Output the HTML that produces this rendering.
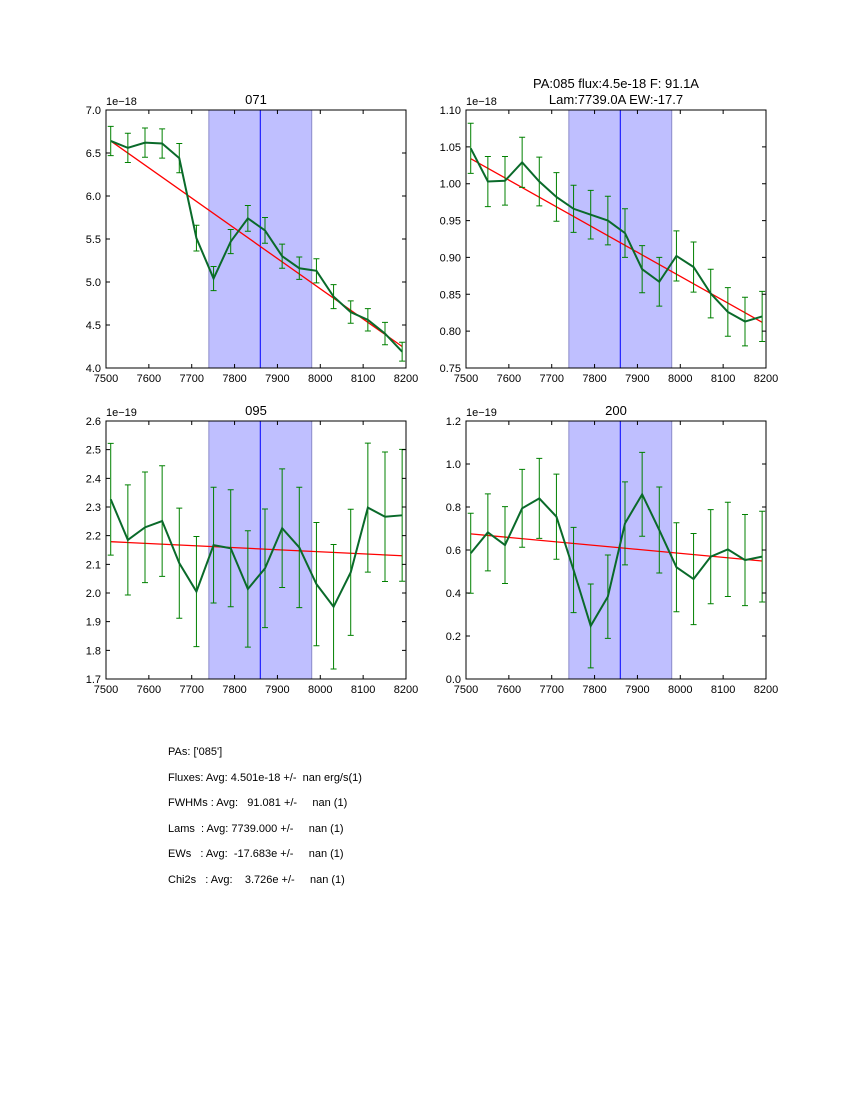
<!DOCTYPE html>
<html><head><meta charset="utf-8">
<style>
body{margin:0;background:#fff;width:850px;height:1100px;overflow:hidden;font-family:"Liberation Sans",sans-serif;}
#info{position:absolute;left:168px;top:740px;font-size:11px;color:#000;white-space:pre;line-height:25.6px;}
</style></head><body>
<svg id="fig" width="850" height="1100" style="position:absolute;left:0;top:0" font-family="Liberation Sans, sans-serif"></svg>
<div id="info">PAs: ['085']
Fluxes: Avg: 4.501e-18 +/-  nan erg/s(1)
FWHMs : Avg:   91.081 +/-     nan (1)
Lams  : Avg: 7739.000 +/-     nan (1)
EWs   : Avg:  -17.683e +/-     nan (1)
Chi2s   : Avg:    3.726e +/-     nan (1)</div>
<script>
const wavelengths=[7511,7551,7591,7631,7671,7711,7751,7791,7831,7871,7911,7951,7991,8031,8071,8111,8151,8191];
const flux071=[6.64,6.56,6.62,6.61,6.44,5.51,5.04,5.47,5.74,5.60,5.30,5.16,5.13,4.83,4.65,4.56,4.40,4.19];
const err071=[0.17,0.17,0.17,0.17,0.17,0.15,0.14,0.14,0.15,0.15,0.14,0.13,0.14,0.14,0.13,0.13,0.13,0.11];
const fit071=[6.64,4.25];
const flux085=[1.048,1.003,1.004,1.029,1.003,0.982,0.966,0.958,0.950,0.933,0.884,0.867,0.902,0.887,0.851,0.826,0.813,0.820];
const err085=[0.034,0.034,0.033,0.034,0.033,0.033,0.032,0.033,0.033,0.033,0.032,0.033,0.034,0.034,0.033,0.033,0.033,0.034];
const fit085=[1.034,0.812];
const flux095=[2.327,2.185,2.229,2.251,2.104,2.005,2.167,2.156,2.014,2.086,2.226,2.159,2.031,1.952,2.072,2.298,2.266,2.271];
const err095=[0.195,0.192,0.193,0.193,0.192,0.192,0.202,0.204,0.203,0.207,0.207,0.21,0.215,0.217,0.22,0.225,0.226,0.23];
const fit095=[2.179,2.130];
const flux200=[0.585,0.682,0.623,0.794,0.840,0.755,0.507,0.247,0.383,0.724,0.859,0.693,0.520,0.465,0.569,0.603,0.553,0.569];
const err200=[0.186,0.179,0.179,0.181,0.186,0.198,0.198,0.195,0.194,0.193,0.195,0.2,0.207,0.212,0.219,0.219,0.212,0.211];
const fit200=[0.675,0.549];
const xTicks=[7500,7600,7700,7800,7900,8000,8100,8200];
const yTicks071=["4.0","4.5","5.0","5.5","6.0","6.5","7.0"];
const yTicks085=["0.75","0.80","0.85","0.90","0.95","1.00","1.05","1.10"];
const yTicks095=["1.7","1.8","1.9","2.0","2.1","2.2","2.3","2.4","2.5","2.6"];
const yTicks200=["0.0","0.2","0.4","0.6","0.8","1.0","1.2"];
const spanRange=[7740,7980];
const lineCenter=7860;

const NS="http://www.w3.org/2000/svg";
const svg=document.getElementById('fig');
function mk(tag,attrs,parent){const e=document.createElementNS(NS,tag);for(const k in attrs)e.setAttribute(k,attrs[k]);(parent||svg).appendChild(e);return e;}

function panel(name,L,T,title,flux,err,fit,yt,exp){
  const W=300,H=258,x0=7500,x1=8200,y0=parseFloat(yt[0]),y1=parseFloat(yt[yt.length-1]);
  const X=v=>L+(v-x0)/(x1-x0)*W, Y=v=>T+H-(v-y0)/(y1-y0)*H;
  const g=mk('g',{});
  
  
  const sp=mk('rect',{x:X(spanRange[0]),y:T,width:X(spanRange[1])-X(spanRange[0]),height:H,fill:'#bfbfff',stroke:'#8a8ac8','stroke-width':1},g);
  
  
  const vl=mk('line',{x1:X(lineCenter),x2:X(lineCenter),y1:T,y2:T+H,stroke:'#0000ff','stroke-width':1},g);
  
  
  const fl=mk('line',{x1:X(wavelengths[0]),y1:Y(fit[0]),x2:X(wavelengths[wavelengths.length-1]),y2:Y(fit[1]),stroke:'#ff0000','stroke-width':1.3},g);
  
  
  wavelengths.forEach((w,i)=>{
    const x=X(w),a=Y(flux[i]+err[i]),b=Y(flux[i]-err[i]);
    const e=mk('path',{d:`M${x},${a}V${b}M${x-3},${a}H${x+3}M${x-3},${b}H${x+3}`,stroke:'#008000','stroke-width':1,fill:'none'},g);
    
    
  });
  const pl=mk('polyline',{points:wavelengths.map((w,i)=>X(w)+','+Y(flux[i])).join(' '),fill:'none',stroke:'#0a6a2a','stroke-width':2},g);
  
  
  const ax=mk('rect',{x:L,y:T,width:W,height:H,fill:'none',stroke:'#000','stroke-width':1},g);
  
  
  xTicks.forEach(t=>{
    const x=X(t);
    mk('path',{d:`M${x},${T+H}v-4M${x},${T}v4`,stroke:'#000'},g);
    const tx=mk('text',{x:x,y:T+H+14,'font-size':11,'text-anchor':'middle'},g);tx.textContent=t;
    
    
  });
  yt.forEach(t=>{
    const y=Y(parseFloat(t));
    mk('path',{d:`M${L},${y}h4M${L+W},${y}h-4`,stroke:'#000'},g);
    const tx=mk('text',{x:L-5,y:y+4,'font-size':11,'text-anchor':'end'},g);tx.textContent=t;
    
    
  });
  const ex=mk('text',{x:L,y:T-5,'font-size':11},g);ex.textContent=exp;
  
  
  title.forEach((s,i)=>{
    const tt=mk('text',{x:L+W/2,y:T-6-(title.length-1-i)*16,'font-size':13,'text-anchor':'middle'},g);tt.textContent=s;
    
    
  });
}
panel('071',106,110,['071'],flux071,err071,fit071,yTicks071,'1e\u221218');
panel('085',466,110,['PA:085 flux:4.5e-18 F: 91.1A','Lam:7739.0A EW:-17.7'],flux085,err085,fit085,yTicks085,'1e\u221218');
panel('095',106,421,['095'],flux095,err095,fit095,yTicks095,'1e\u221219');
panel('200',466,421,['200'],flux200,err200,fit200,yTicks200,'1e\u221219');
</script>
</body></html>
